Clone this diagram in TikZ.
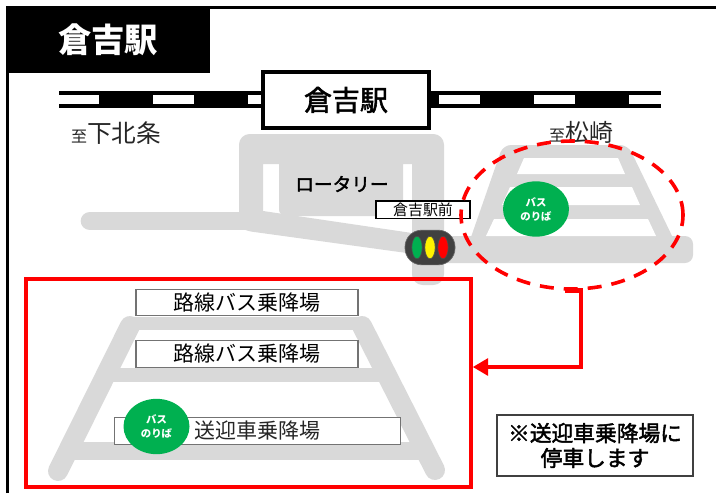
\documentclass[tikz,border=0pt]{standalone}
\usepackage{fontspec}
\newfontfamily\cjk{Noto Sans CJK JP}
\newfontfamily\cjkmid[FakeBold=2]{Noto Sans CJK JP}
\usetikzlibrary{shapes,arrows.meta}
\definecolor{roadgray}{HTML}{D9D9D9}
\definecolor{busgreen}{HTML}{00B050}
\definecolor{lampbody}{HTML}{404040}
\newcommand{\jpsize}[2]{\cjk\fontsize{#1}{#2}\selectfont}
\newcommand{\jpmid}[2]{\cjkmid\fontsize{#1}{#2}\selectfont}

\begin{document}
\begin{tikzpicture}[x=.75pt,y=-.75pt]
			\tikzstyle{road}=[fill=roadgray,draw=none]
			\tikzstyle{roadline}=[draw=roadgray,line cap=round]
			\tikzstyle{gap}=[fill=white,draw=none]
			\tikzstyle{sign}=[rectangle,draw=black!55,line width=.8pt,fill=white,inner sep=0pt]
			\tikzstyle{plain}=[inner sep=0pt,text=black!85]
			\tikzstyle{busstop}=[ellipse,fill=busgreen,text=white,inner sep=0pt,align=center,minimum width=49.5pt,minimum height=41.5pt,font=\jpsize{7.8}{10.5}\bfseries]
			\tikzstyle{lamp}=[ellipse,draw=black!70,line width=.5pt,inner sep=0pt,minimum width=7.8pt,minimum height=17pt]
			\tikzstyle{flow}=[draw=red,line width=3.4pt,-{Triangle[length=11.5pt,width=12.5pt]}]
			
			\useasboundingbox (0,0) rectangle (716,493);
			\draw [black,line width=2.25pt] (7.5,493) -- (7.5,7.5) -- (716,7.5);
			\node (title) at (108,40) [rectangle,fill=black,text=white,inner sep=0pt,minimum width=153pt,minimum height=50pt,font=\jpsize{25}{28}\bfseries] {倉吉駅};
			
			\fill [black] (59,91) rectangle (661,108);
			\foreach \from/\to in {59/99,153/194,248/263,439/480,534/575,629/661}
				\fill [gap] (\from,95) rectangle (\to,104);
			\node (station) at (346,100) [rectangle,draw=black,line width=2.5pt,fill=white,inner sep=0pt,minimum width=124.5pt,minimum height=42pt,font=\jpmid{21}{24}] {倉吉駅};
			\node (shimo) at (116,133) [plain,font=\jpsize{18.5}{22}] {{\jpsize{12}{22}至}下北条};
			\node (matsu) at (581,132) [plain,font=\jpsize{18}{22}] {{\jpsize{12}{22}至}松崎};
			
			\draw [roadline,line width=14pt] (90,221) -- (245,221);
			\path [road] [rounded corners=8pt] (239,225) -- (239,134) -- (444,134) -- (444,285) -- (412,285) [sharp corners] -- (412,164) -- (403,164) -- (403,216) [rounded corners=5pt] -- (279,216) [sharp corners] -- (279,164) -- (263,164) -- (263,225) -- cycle;
			\path [road] [rounded corners=3pt] (255,209.8) -- (414,233.3) -- (414,254) -- (247,231) -- (238,226) -- cycle;
			\path [road] [rounded corners=6pt] (503,145) -- (628,145) [sharp corners] -- (674,240) -- (470,240) [rounded corners=6pt] -- cycle;
			\path [road] [rounded corners=6pt] (412,236) -- (693,236) -- (693,263) -- (412,263) -- cycle;
			\path [gap] (524,158) -- (618,158) -- (625,174) -- (517,174) -- cycle;
			\path [gap] (510,187) -- (632,187) -- (640,205) -- (502,205) -- cycle;
			\path [gap] (494,219) -- (648,219) -- (656,236) -- (486,236) -- cycle;
			
			\draw [roadline,line width=15pt] (58,471) -- (130,326);
			\draw [roadline,line width=15pt] (362,326) -- (435,470);
			\draw [roadline,line cap=butt,line width=10pt] (128,323.5) -- (364,323.5);
			\draw [roadline,line cap=butt,line width=10.5pt] (100,375) -- (393,375);
			\draw [roadline,line cap=butt,line width=13.5pt] (65,451) -- (430,451);
			
			\node (rotary) at (342,184) [plain,text=black,font=\jpmid{14}{18}] {ロータリー};
			\node (mae) at (423,209.5) [sign,draw=black,minimum width=70.5pt,minimum height=12.8pt,font=\jpsize{11.2}{13}] {倉吉駅前};
			\node (signal) at (430,247.5) [rectangle,rounded corners=12.5pt,fill=lampbody,draw=black!60,line width=.5pt,minimum width=37.5pt,minimum height=26pt,inner sep=0pt] {};
			\node (blue) at (417,247.5) [lamp,fill=busgreen] {};
			\node (yellow) at (430,247.5) [lamp,fill=yellow] {};
			\node (stop) at (443,247.5) [lamp,fill=red] {};
			\node (oldstop) at (536,209) [busstop] {バス\\のりば};
			\node (oldarea) at (572,215) [ellipse,draw=red,line width=2.7pt,dash pattern=on 10.5pt off 7.5pt,inner sep=0pt,minimum width=166.5pt,minimum height=111pt] {};
			
			\node (newarea) at (248.5,383) [rectangle,draw=red,line width=2.6pt,inner sep=0pt,minimum width=333.75pt,minimum height=156pt] {};
			\node (routeA) at (247,302.5) [sign,minimum width=166.5pt,minimum height=20pt,font=\jpsize{15.75}{18}] {路線バス乗降場};
			\node (routeB) at (247,354) [sign,minimum width=166.5pt,minimum height=20pt,font=\jpsize{15.75}{18}] {路線バス乗降場};
			\node (pickup) at (257.5,431) [sign,minimum width=214pt,minimum height=20pt] {};
			\node (pickuptext) at (257.5,431) [plain,font=\jpsize{15.75}{18}] {送迎車乗降場};
			\node (newstop) at (156.5,426.5) [busstop] {バス\\のりば};
			\node (note) at (595,445.5) [sign,draw=black!75,align=center,minimum width=147pt,minimum height=45.75pt,font=\jpmid{16.3}{18.7}] {※送迎車乗降場に\\停車します};
			
			\coordinate (elbow) at (581,367);
			\draw [flow] (oldarea.265) -| (elbow) -- (elbow -| newarea.east);
			\end{tikzpicture}
\end{document}
